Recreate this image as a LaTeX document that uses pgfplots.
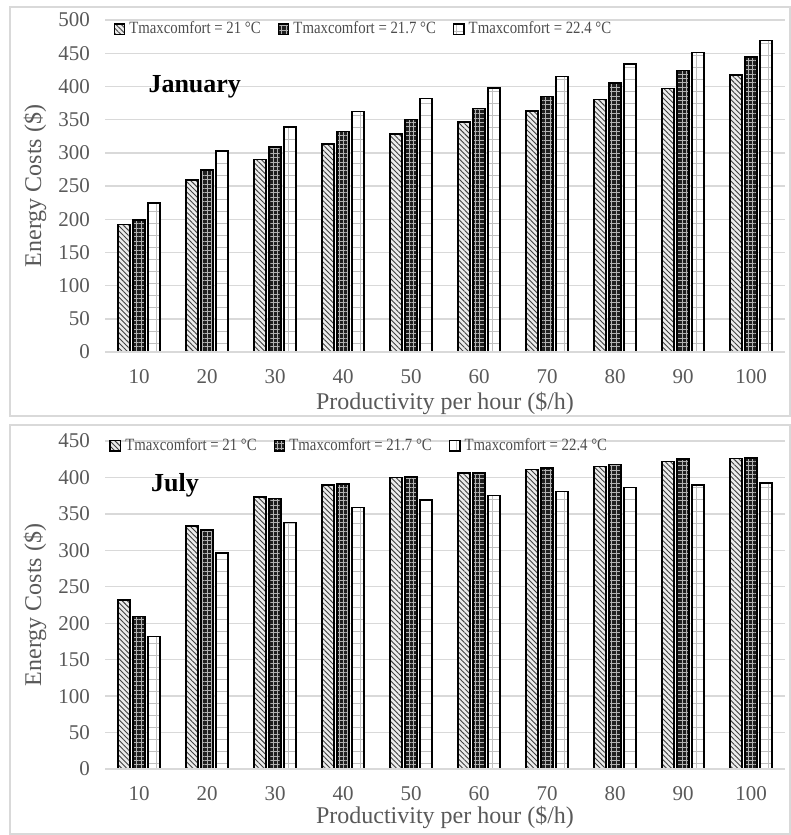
\documentclass[border=0pt]{standalone}
\usepackage{fontspec}
\setmainfont{Liberation Serif}
\newfontfamily\legfont[FakeStretch=0.86]{Liberation Serif}
\usepackage{pgfplots}
\pgfplotsset{compat=1.18}
\usepackage{pgfplotstable}
\usetikzlibrary{patterns,patterns.meta}
\definecolor{tickgray}{HTML}{595959}
\definecolor{gridgray}{HTML}{D9D9D9}

\pgfplotstableread{
x a b c
0 192 199 224
1 259 274 303
2 290 309 339
3 313 332 362
4 328 350 382
5 346 367 398
6 363 385 415
7 380 405 434
8 397 424 451
9 417 444 469
}\jan

\pgfplotstableread{
x a b c
0 232 209 182
1 333 328 296
2 373 371 338
3 390 391 359
4 400 401 369
5 406 406 375
6 411 413 381
7 415 418 386
8 422 425 390
9 426 427 392
}\jul

\pgfplotsset{
  common/.style={
    scale only axis,
    width=340pt,
    ybar=1.5pt,
    bar width=6pt,
    xmin=-0.5, xmax=9.5,
    xtick=data,
    xticklabels={10,20,30,40,50,60,70,80,90,100},
    ymin=0,
    ytick distance=50,
    major tick length=0pt,
    axis line style={draw=none},
    ymajorgrids,
    grid style={gridgray, line width=0.7pt},
    /pgf/number format/assume math mode=true,
    tick label style={font=\fontsize{10.5}{12}\selectfont, text=tickgray},
    yticklabel style={xshift=-4pt},
    xticklabel style={yshift=-5pt},
    xlabel={Productivity per hour (\$/h)},
    ylabel={Energy Costs (\$)},
    label style={font=\fontsize{12}{14}\selectfont, text=tickgray},
    ylabel style={at={(axis description cs:-0.103,0.5)}, anchor=center},
    legend image code/.code={\draw[##1, line width=0.7pt] (0pt,-2.6pt) rectangle (5.2pt,2.6pt);},
    legend style={draw=none, fill=none, legend columns=3,
      font=\legfont\fontsize{8.6}{10}\selectfont, text=black!70,
      anchor=west,
      /tikz/every even column/.append style={column sep=6.5pt},
      inner sep=0pt},
    legend cell align=left,
    after end axis/.code={\draw[gridgray, line width=1.1pt] (rel axis cs:0,0) -- (rel axis cs:1,0);},
  },
  sA/.style={draw=black, line width=0.8pt, fill=gray!15,
    postaction={pattern={Lines[angle=-45,distance=1.8pt,line width=0.45pt]}, pattern color=black!75}},
  sB/.style={draw=black, line width=0.8pt, fill=black!88,
    postaction={pattern={Hatch[angle=0,distance=2.2pt,line width=0.25pt]}, pattern color=gray!60}},
  sC/.style={draw=black, line width=0.8pt, fill=white,
    postaction={pattern={Hatch[angle=0,distance=6pt,line width=0.3pt]}, pattern color=gray!50}},
}

\begin{document}
\begin{tikzpicture}
\useasboundingbox (0,0) rectangle (395.5pt,-417.5pt);
\draw[gridgray, line width=0.8pt] (5pt,-3.5pt) rectangle (395pt,-208pt);
\draw[gridgray, line width=0.8pt] (5pt,-212.5pt) rectangle (395pt,-417pt);

\begin{axis}[common,
  at={(52.5pt,-176pt)}, anchor=south west,
  height=166pt, ymax=500,
  xlabel style={at={(axis description cs:0.5,-0.154)}, anchor=center},
  legend style={at={(0.012,0.972)}},
]
\addplot[sA] table[x=x,y=a] {\jan};
\addplot[sB] table[x=x,y=b] {\jan};
\addplot[sC] table[x=x,y=c] {\jan};
\legend{Tmaxcomfort = 21 °C, Tmaxcomfort = 21.7 °C, Tmaxcomfort = 22.4 °C}
\node[font=\bfseries\fontsize{13}{15}\selectfont] at (rel axis cs:0.132,0.798) {January};
\end{axis}

\begin{axis}[common,
  at={(52.5pt,-384.5pt)}, anchor=south west,
  height=164pt, ymax=450,
  xlabel style={at={(axis description cs:0.5,-0.149)}, anchor=center},
  legend style={at={(0.006,0.985)}},
]
\addplot[sA] table[x=x,y=a] {\jul};
\addplot[sB] table[x=x,y=b] {\jul};
\addplot[sC] table[x=x,y=c] {\jul};
\legend{Tmaxcomfort = 21 °C, Tmaxcomfort = 21.7 °C, Tmaxcomfort = 22.4 °C}
\node[font=\bfseries\fontsize{13}{15}\selectfont] at (rel axis cs:0.103,0.866) {July};
\end{axis}
\end{tikzpicture}
\end{document}
